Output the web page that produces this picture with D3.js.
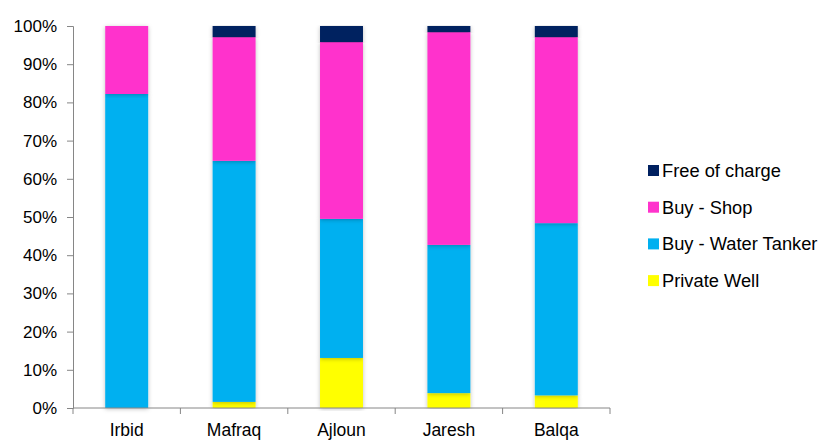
<!DOCTYPE html>
<html>
<head>
<meta charset="utf-8">
<script src="https://d3js.org/d3.v7.min.js"></script>
<style>
  body { margin: 0; background: #fff; }
  text { font-family: "Liberation Sans", Arial, sans-serif; }
</style>
</head>
<body>
<div id="chart"></div>
<script>
// chart data
var regions = ["Irbid", "Mafraq", "Ajloun", "Jaresh", "Balqa"];
var sources = ["Private Well", "Buy - Water Tanker", "Buy - Shop", "Free of charge"];
var privateWell = [0, 1.6, 13.1, 3.9, 3.3];
var waterTanker = [82.2, 63.1, 36.4, 38.8, 45.1];
var shop = [17.8, 32.4, 46.3, 55.7, 48.7];
var freeOfCharge = [0, 2.9, 4.2, 1.6, 2.9];
var yTicks = [0, 10, 20, 30, 40, 50, 60, 70, 80, 90, 100];
var colors = ["#FFFF00", "#00B0F0", "#FF33CC", "#002060"];

var width = 822, height = 440;
var margin = {left: 73, right: 212, top: 26, bottom: 32};

var svg = d3.select("#chart").append("svg")
    .attr("width", width)
    .attr("height", height);

var defs = svg.append("defs");
defs.append("filter")
    .attr("id", "shadow")
    .attr("x", "-20%").attr("y", "-5%")
    .attr("width", "140%").attr("height", "110%")
    .append("feDropShadow")
    .attr("dx", 0).attr("dy", 1)
    .attr("stdDeviation", 2)
    .attr("flood-color", "#000")
    .attr("flood-opacity", 0.25);

var x = d3.scaleBand()
    .domain(regions)
    .range([margin.left, width - margin.right])
    .paddingInner(0.6)
    .paddingOuter(0.3);

var y = d3.scaleLinear()
    .domain([0, 100])
    .range([height - margin.bottom, margin.top]);

var table = regions.map(function(r, i) {
    return {
        region: r,
        "Private Well": privateWell[i],
        "Buy - Water Tanker": waterTanker[i],
        "Buy - Shop": shop[i],
        "Free of charge": freeOfCharge[i]
    };
});

var series = d3.stack().keys(sources)(table);

var layers = svg.append("g").attr("class", "bars")
    .selectAll("g")
    .data(series)
    .enter()
    .append("g")
    .attr("fill", function(d, i) { return colors[i]; });

layers.selectAll("rect")
    .data(function(d) { return d; })
    .enter()
    .append("rect")
    .attr("x", function(d) { return x(d.data.region); })
    .attr("y", function(d) { return y(d[1]); })
    .attr("width", x.bandwidth())
    .attr("height", function(d) { return y(d[0]) - y(d[1]); })
    .attr("filter", "url(#shadow)");

// y axis
var yAxis = svg.append("g")
    .attr("transform", "translate(" + margin.left + ",0)")
    .call(d3.axisLeft(y)
        .tickValues(yTicks)
        .tickFormat(function(d) { return d + "%"; })
        .tickSize(6)
        .tickPadding(10));
yAxis.selectAll("path, line").attr("stroke", "#868686");
yAxis.selectAll("text")
    .style("font-size", "17px")
    .attr("fill", "#000");

// x axis, ticks at band boundaries
var xAxis = svg.append("g")
    .attr("transform", "translate(0," + y(0) + ")");
xAxis.append("line")
    .attr("x1", margin.left)
    .attr("x2", width - margin.right)
    .attr("stroke", "#868686");
var bounds = d3.range(regions.length + 1).map(function(i) {
    return margin.left + i * (width - margin.left - margin.right) / regions.length;
});
xAxis.selectAll(".bound")
    .data(bounds)
    .enter()
    .append("line")
    .attr("x1", function(d) { return d; })
    .attr("x2", function(d) { return d; })
    .attr("y1", 0)
    .attr("y2", 6)
    .attr("stroke", "#868686");
xAxis.selectAll(".cat")
    .data(regions)
    .enter()
    .append("text")
    .attr("x", function(d) { return x(d) + x.bandwidth() / 2; })
    .attr("y", 28)
    .attr("text-anchor", "middle")
    .style("font-size", "17.5px")
    .text(function(d) { return d; });

// legend
var legendOrder = sources.slice().reverse();
var legend = svg.append("g")
    .attr("transform", "translate(648,177)");
var items = legend.selectAll("g")
    .data(legendOrder)
    .enter()
    .append("g")
    .attr("transform", function(d, i) { return "translate(0," + (i * 36.7) + ")"; });
items.append("rect")
    .attr("x", 0)
    .attr("y", -12)
    .attr("width", 11)
    .attr("height", 11)
    .attr("fill", function(d) { return colors[sources.indexOf(d)]; });
items.append("text")
    .attr("x", 14)
    .attr("y", 0)
    .style("font-size", "18.3px")
    .text(function(d) { return d; });
</script>
</body>
</html>
